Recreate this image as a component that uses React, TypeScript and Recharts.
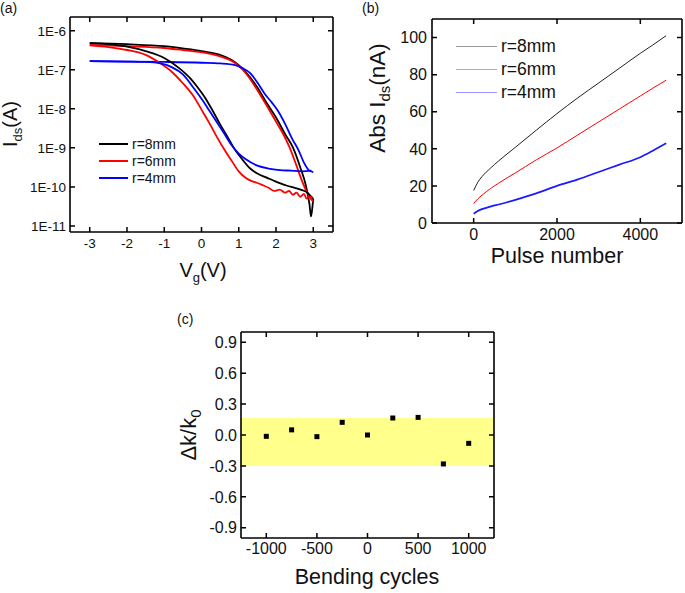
import React from "react";
import { LineChart, Line, ScatterChart, Scatter, XAxis, YAxis, ReferenceArea, Legend, Label } from "recharts";

const FONT = "'Liberation Sans', Arial, sans-serif";

// (a) transfer curves; "up" = sweep branch lying high on the right, "down" = return branch, both sorted by Vg
const r8UpVg = [-3, -2, -1, -0.5, 0, 0.5, 0.8, 1.0, 1.2, 1.5, 1.75, 2.0, 2.25, 2.46, 2.65, 2.8, 2.9, 2.94, 2.98, 3.0];
const r8UpIds = [4.8e-7, 4.5e-7, 4.0e-7, 3.5e-7, 3.0e-7, 2.4e-7, 1.8e-7, 1.3e-7, 8.5e-8, 3.5e-8, 1.4e-8, 6.0e-9, 2.2e-9, 1.0e-9, 3.2e-10, 1.1e-10, 3.5e-11, 1.75e-11, 3.2e-11, 5.0e-11];
const r8DownVg = [-3, -2.5, -2, -1.5, -1, -0.6, -0.3, -0.1, 0.1, 0.3, 0.5, 0.7, 0.9, 1.1, 1.3, 1.5, 1.7, 1.9, 2.1, 2.3, 2.5, 2.7, 2.85, 2.92, 3.0];
const r8DownIds = [4.8e-7, 4.5e-7, 3.9e-7, 3.0e-7, 2.0e-7, 1.1e-7, 6.0e-8, 3.5e-8, 1.9e-8, 8.9e-9, 4.0e-9, 1.9e-9, 8.9e-10, 5.0e-10, 3.0e-10, 2.2e-10, 1.8e-10, 1.5e-10, 1.25e-10, 1.07e-10, 9.5e-11, 8.3e-11, 7.0e-11, 6.0e-11, 5.0e-11];

const r6UpVg = [-3, -2, -1, -0.5, 0, 0.5, 0.8, 1.0, 1.2, 1.5, 1.8, 2.0, 2.2, 2.37, 2.55, 2.7, 2.82, 2.92, 3.0];
const r6UpIds = [4.3e-7, 4.0e-7, 3.6e-7, 3.2e-7, 2.8e-7, 2.2e-7, 1.7e-7, 1.26e-7, 7.9e-8, 3.0e-8, 1.0e-8, 4.7e-9, 2.2e-9, 1.0e-9, 3.5e-10, 1.4e-10, 7.6e-11, 5.2e-11, 4.2e-11];
const r6DownVg = [-3, -2.5, -2, -1.5, -1.1, -0.8, -0.5, -0.2, 0, 0.2, 0.4, 0.6, 0.8, 1.0, 1.2, 1.35, 1.5, 1.65, 1.8, 1.95, 2.1, 2.25, 2.35, 2.45, 2.55, 2.65, 2.75, 2.82, 2.9, 2.98];
const r6DownIds = [4.2e-7, 3.8e-7, 3.2e-7, 2.4e-7, 1.45e-7, 8.9e-8, 4.5e-8, 2.0e-8, 9.5e-9, 4.5e-9, 2.0e-9, 9.5e-10, 4.8e-10, 2.5e-10, 1.66e-10, 1.4e-10, 1.26e-10, 1.1e-10, 9.5e-11, 7.9e-11, 8.5e-11, 7.1e-11, 7.9e-11, 6.3e-11, 7.1e-11, 5.6e-11, 6.6e-11, 5.0e-11, 5.6e-11, 5.2e-11];

const r4UpVg = [-3, -2, -1, 0, 0.5, 0.9, 1.1, 1.3, 1.5, 1.7, 1.9, 2.05, 2.25, 2.45, 2.6, 2.75, 2.88, 3.0];
const r4UpIds = [1.66e-7, 1.62e-7, 1.58e-7, 1.51e-7, 1.45e-7, 1.32e-7, 1.1e-7, 8.3e-8, 4.7e-8, 2.4e-8, 1.4e-8, 8.9e-9, 4.0e-9, 1.6e-9, 8.9e-10, 4.2e-10, 2.7e-10, 2.4e-10];
const r4DownVg = [-3, -2, -1.5, -1.1, -0.8, -0.5, -0.2, 0, 0.2, 0.4, 0.6, 0.8, 1.0, 1.2, 1.5, 1.8, 2.1, 2.4, 2.7, 2.95];
const r4DownIds = [1.66e-7, 1.62e-7, 1.58e-7, 1.45e-7, 1.17e-7, 7.6e-8, 3.3e-8, 1.8e-8, 9.3e-9, 4.7e-9, 2.4e-9, 1.2e-9, 7.1e-10, 5.0e-10, 3.5e-10, 2.95e-10, 2.7e-10, 2.6e-10, 2.5e-10, 2.6e-10];

const idsTicks = [1e-11, 1e-10, 1e-9, 1e-8, 1e-7, 1e-6];
const vgTicks = [-3, -2, -1, 0, 1, 2, 3];

// (b) current vs pulse number
const pulses = [0, 100, 200, 400, 600, 800, 1000, 1500, 2000, 2500, 3000, 3500, 4000, 4300, 4620];
const absR8 = [17.5, 22, 25, 29.5, 33.5, 37.2, 40.8, 50, 59, 67.5, 75.5, 83.5, 91.5, 96, 101];
const absR6 = [10.5, 13, 15, 18.5, 21.5, 24.3, 27, 34, 40.5, 47.5, 54.5, 61.5, 68.5, 72.7, 77];
const absR4 = [5, 6.5, 7.5, 8.8, 10, 11.2, 12.5, 16, 20, 23.5, 27.5, 31.5, 35.5, 39, 43];
const pulseTicks = [0, 2000, 4000];
const nATicks = [0, 20, 40, 60, 80, 100];

// (c) dk/k0 vs bending cycles
const cycles = [-1000, -750, -500, -250, 0, 250, 500, 750, 1000];
const dkk0 = [-0.013, 0.05, -0.016, 0.123, 0, 0.165, 0.171, -0.281, -0.081];
const cycleTicks = [-1000, -500, 0, 500, 1000];
const dkTicks = [-0.9, -0.6, -0.3, 0, 0.3, 0.6, 0.9];
const bandLow = -0.3;
const bandHigh = 0.165;

const legendNames = ["r=8mm", "r=6mm", "r=4mm"];

const pts = (xs: number[], ys: number[], kx: string, ky: string) => xs.map((x, i) => ({ [kx]: x, [ky]: ys[i] }));

const frame = { stroke: "#000", strokeWidth: 1.6 };
const TICK = 5;

// bottom labels; also draws the inner tick marks on the bottom and top edges (tickSize is 0, so p.y = axis + gap)
const bottomTick = (size: number, gap: number, plotH: number, fmt: (v: number) => string) => (p: any) => {
  const x = Number(p.x);
  const axisY = Number(p.y) - gap;
  const topY = axisY - plotH;
  return (
    <g>
      <path d={`M${x},${axisY}V${axisY - TICK}M${x},${topY}V${topY + TICK}`} stroke="#000" strokeWidth={1.5} fill="none" />
      <text x={x} y={p.y} dy="0.74em" textAnchor="middle" fontSize={size} fontFamily={FONT} fill="#111">
        {fmt(p.payload.value)}
      </text>
    </g>
  );
};

// left labels; also draws inner tick marks on the left and right edges
const leftTick = (size: number, gap: number, plotW: number, fmt: (v: number) => string) => (p: any) => {
  const y = Number(p.y);
  const axisX = Number(p.x) + gap;
  const rightX = axisX + plotW;
  return (
    <g>
      <path d={`M${axisX},${y}H${axisX + TICK}M${rightX},${y}H${rightX - TICK}`} stroke="#000" strokeWidth={1.5} fill="none" />
      <text x={p.x} y={y} dy="0.36em" textAnchor="end" fontSize={size} fontFamily={FONT} fill="#111">
        {fmt(p.payload.value)}
      </text>
    </g>
  );
};

const legendBox = (lineLen: number, lineW: number, rowH: number, fontSize: number, opacity: number) => (props: any) => {
  const items = (props.payload || []).filter((e: any) => e.type !== "none");
  return (
    <div style={{ fontFamily: FONT, fontSize, color: "#111" }}>
      {legendNames.map((n) => {
        const e = items.find((it: any) => it.value === n);
        if (!e) return null;
        return (
          <div key={n} style={{ display: "flex", alignItems: "center", height: rowH, whiteSpace: "nowrap" }}>
            <span style={{ display: "inline-block", width: lineLen, borderTop: `${lineW}px solid ${e.color}`, opacity, marginRight: 4 }} />
            <span>{n}</span>
          </div>
        );
      })}
    </div>
  );
};

const fmtInt = (v: number) => String(v);
const fmtExp = (v: number) => `1E${Math.round(Math.log10(v))}`;
const fmt1 = (v: number) => (Math.abs(v) < 1e-9 ? "0.0" : v.toFixed(1));

function PanelA() {
  const W = 345, H = 290, m = { top: 17, right: 12, bottom: 0, left: 0 }, yw = 70, xh = 58;
  const plotW = W - m.left - m.right - yw;
  const plotH = H - m.top - m.bottom - xh;
  const dom: [number, number] = [7e-12, 2.24e-6];
  const vdom: [number, number] = [-3.53, 3.53];
  const series = [
    { name: "r=8mm", color: "#000000", up: pts(r8UpVg, r8UpIds, "v", "i"), down: pts(r8DownVg, r8DownIds, "v", "i") },
    { name: "r=6mm", color: "#ff0000", up: pts(r6UpVg, r6UpIds, "v", "i"), down: pts(r6DownVg, r6DownIds, "v", "i") },
    { name: "r=4mm", color: "#0000ff", up: pts(r4UpVg, r4UpIds, "v", "i"), down: pts(r4DownVg, r4DownIds, "v", "i") },
  ];
  return (
    <LineChart width={W} height={H} margin={m}>
      <XAxis type="number" dataKey="v" domain={vdom} ticks={vgTicks} interval={0} allowDataOverflow height={xh}
        tickSize={0} tickMargin={6} tickLine={false} axisLine={frame} tick={bottomTick(13.5, 6, plotH, fmtInt)}>
        <Label content={() => (
          <text x={203} y={277} textAnchor="middle" fontSize={20} fontFamily={FONT} fill="#111">
            V<tspan dy={5} fontSize={13}>g</tspan><tspan dy={-5}>(V)</tspan>
          </text>
        )} />
      </XAxis>
      <XAxis xAxisId="top" orientation="top" mirror type="number" domain={vdom} ticks={vgTicks}
        height={10} tickLine={false} axisLine={frame} tick={false} />
      <YAxis type="number" scale="log" dataKey="i" domain={dom} ticks={idsTicks} interval={0} allowDataOverflow width={yw}
        tickSize={0} tickMargin={4} tickLine={false} axisLine={frame} tick={leftTick(13.5, 4, plotW, fmtExp)}>
        <Label content={() => (
          <text x={17} y={124} transform="rotate(-90 17 124)" textAnchor="middle" fontSize={20} fontFamily={FONT} fill="#111">
            I<tspan dy={5} fontSize={13}>ds</tspan><tspan dy={-5}>(A)</tspan>
          </text>
        )} />
      </YAxis>
      <YAxis yAxisId="right" orientation="right" mirror type="number" scale="log" domain={dom} ticks={idsTicks}
        width={10} tickLine={false} axisLine={frame} tick={false} />
      <Legend layout="vertical" align="center" verticalAlign="middle" wrapperStyle={{ left: 99, top: 136, width: "auto" }}
        content={legendBox(29, 2, 16.7, 14, 1)} />
      {series.map((s) => (
        <Line key={s.name + "-up"} name={s.name} data={s.up} dataKey="i" type="monotone" stroke={s.color} strokeWidth={1.8}
          dot={false} isAnimationActive={false} />
      ))}
      {series.map((s) => (
        <Line key={s.name + "-down"} name={s.name + " return"} legendType="none" data={s.down} dataKey="i" type="monotone"
          stroke={s.color} strokeWidth={1.8} dot={false} isAnimationActive={false} />
      ))}
    </LineChart>
  );
}

function PanelB() {
  const W = 340, H = 290, m = { top: 19, right: 3, bottom: 0, left: 0 }, yw = 87, xh = 67;
  const plotW = W - m.left - m.right - yw;
  const plotH = H - m.top - m.bottom - xh;
  const xdom: [number, number] = [-1000, 5000];
  const ydom: [number, number] = [0, 110];
  const series = [
    { name: "r=8mm", color: "#222222", w: 1, d: pts(pulses, absR8, "p", "a") },
    { name: "r=6mm", color: "#ff0000", w: 1, d: pts(pulses, absR6, "p", "a") },
    { name: "r=4mm", color: "#1a1aff", w: 1.7, d: pts(pulses, absR4, "p", "a") },
  ];
  return (
    <LineChart width={W} height={H} margin={m}>
      <XAxis type="number" dataKey="p" domain={xdom} ticks={pulseTicks} interval={0} allowDataOverflow height={xh}
        tickSize={0} tickMargin={5} tickLine={false} axisLine={frame} tick={bottomTick(16, 5, plotH, fmtInt)}>
        <Label content={() => (
          <text x={212} y={263} textAnchor="middle" fontSize={21.5} fontFamily={FONT} fill="#111">Pulse number</text>
        )} />
      </XAxis>
      <XAxis xAxisId="top" orientation="top" mirror type="number" domain={xdom} ticks={pulseTicks}
        height={10} tickLine={false} axisLine={frame} tick={false} />
      <YAxis type="number" dataKey="a" domain={ydom} ticks={nATicks} interval={0} allowDataOverflow width={yw}
        tickSize={0} tickMargin={5} tickLine={false} axisLine={frame} tick={leftTick(16, 5, plotW, fmtInt)}>
        <Label content={() => (
          <text x={40} y={98} transform="rotate(-90 40 98)" textAnchor="middle" fontSize={22.5} fontFamily={FONT} fill="#111">
            Abs I<tspan dy={5} fontSize={15}>ds</tspan><tspan dy={-5}>(nA)</tspan>
          </text>
        )} />
      </YAxis>
      <YAxis yAxisId="right" orientation="right" mirror type="number" domain={ydom} ticks={nATicks}
        width={10} tickLine={false} axisLine={frame} tick={false} />
      <Legend layout="vertical" align="center" verticalAlign="middle" wrapperStyle={{ left: 111, top: 35, width: "auto" }}
        content={legendBox(41, 1, 23, 17.5, 0.45)} />
      {series.map((s) => (
        <Line key={s.name} name={s.name} data={s.d} dataKey="a" type="monotone" stroke={s.color} strokeWidth={s.w}
          dot={false} isAnimationActive={false} />
      ))}
    </LineChart>
  );
}

function PanelC() {
  const W = 360, H = 293, m = { top: 32, right: 16, bottom: 0, left: 0 }, yw = 91, xh = 55;
  const plotW = W - m.left - m.right - yw;
  const plotH = H - m.top - m.bottom - xh;
  const xdom: [number, number] = [-1250, 1250];
  const ydom: [number, number] = [-1, 1];
  const data = pts(cycles, dkk0, "c", "k");
  return (
    <ScatterChart width={W} height={H} margin={m}>
      <ReferenceArea y1={bandLow} y2={bandHigh} fill="#ffff8c" fillOpacity={1} stroke="none" />
      <XAxis type="number" dataKey="c" domain={xdom} ticks={cycleTicks} interval={0} allowDataOverflow height={xh}
        tickSize={0} tickMargin={4} tickLine={false} axisLine={frame} tick={bottomTick(16, 4, plotH, fmtInt)}>
        <Label content={() => (
          <text x={217} y={284} textAnchor="middle" fontSize={21.5} fontFamily={FONT} fill="#111">Bending cycles</text>
        )} />
      </XAxis>
      <XAxis xAxisId="top" orientation="top" mirror type="number" domain={xdom} ticks={cycleTicks}
        height={10} tickLine={false} axisLine={frame} tick={false} />
      <YAxis type="number" dataKey="k" domain={ydom} ticks={dkTicks} interval={0} allowDataOverflow width={yw}
        tickSize={0} tickMargin={4} tickLine={false} axisLine={frame} tick={leftTick(16, 4, plotW, fmt1)}>
        <Label content={() => (
          <text x={46} y={135} transform="rotate(-90 46 135)" textAnchor="middle" fontSize={22} fontFamily={FONT} fill="#111">
            Δk/k<tspan dy={5} fontSize={15}>0</tspan>
          </text>
        )} />
      </YAxis>
      <YAxis yAxisId="right" orientation="right" mirror type="number" domain={ydom} ticks={dkTicks}
        width={10} tickLine={false} axisLine={frame} tick={false} />
      <Scatter data={data} fill="#000" isAnimationActive={false}
        shape={(p: any) => <rect x={p.cx - 2.5} y={p.cy - 2.5} width={5} height={5} fill="#000" />} />
    </ScatterChart>
  );
}

const panelTag = (text: string, left: number, top: number) => (
  <span style={{ position: "absolute", left, top, fontFamily: FONT, fontSize: 14, lineHeight: "14px", color: "#111" }}>{text}</span>
);

export default function App() {
  return (
    <div style={{ position: "absolute", left: 0, top: 0, width: 685, height: 593, background: "#fff", overflow: "hidden" }}>
      <div style={{ position: "absolute", left: 0, top: 0 }}><PanelA /></div>
      <div style={{ position: "absolute", left: 345, top: 0 }}><PanelB /></div>
      <div style={{ position: "absolute", left: 150, top: 300 }}><PanelC /></div>
      {panelTag("(a)", 0, 1)}
      {panelTag("(b)", 362, 1)}
      {panelTag("(c)", 177, 312)}
    </div>
  );
}
